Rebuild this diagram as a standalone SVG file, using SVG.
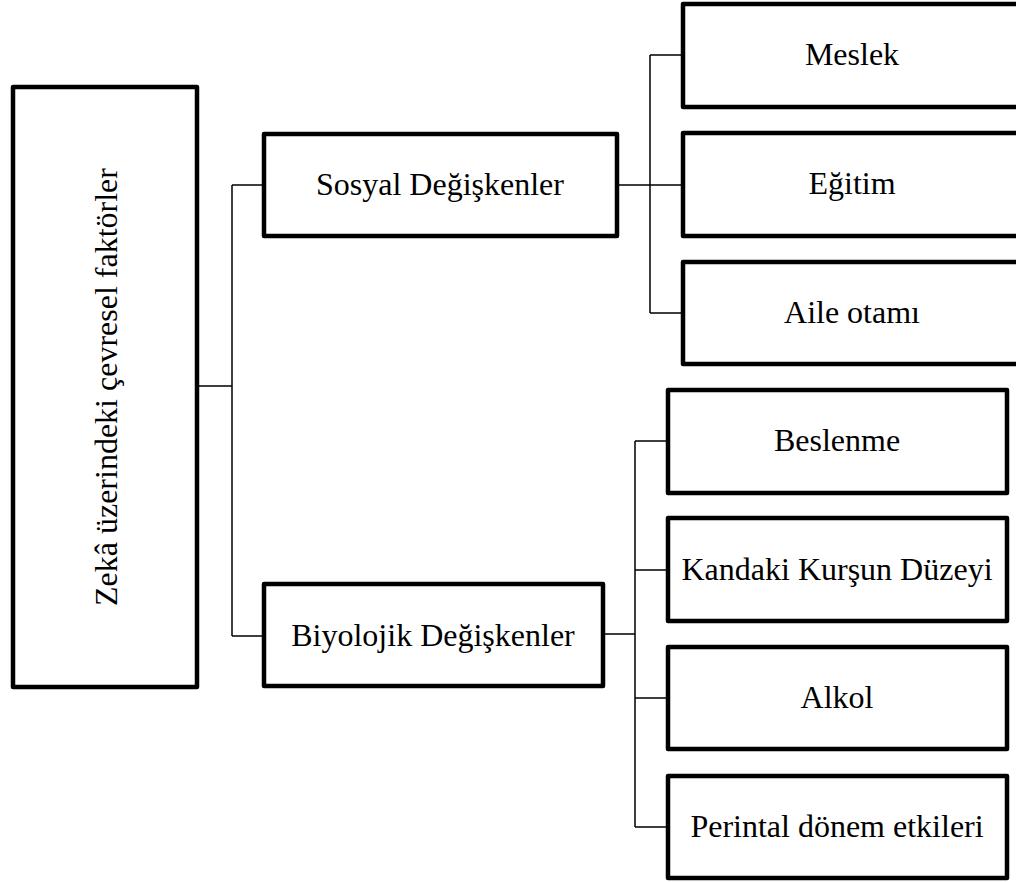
<svg xmlns="http://www.w3.org/2000/svg" width="1016" height="882" viewBox="0 0 1016 882">
  <style>
    .box { fill: #ffffff; stroke: #000000; stroke-width: 4.5; stroke-linejoin: round; }
    .lbl { font-family: "Liberation Serif", "Times New Roman", serif; font-size: 32px; fill: #000000; text-anchor: middle; }
    .wire { fill: none; stroke: #000000; stroke-width: 1.5; }
  </style>
  <rect width="1016" height="882" fill="#ffffff"/>

  <!-- tree connectors -->
  <g id="connectors">
    <path class="wire" d="M197 386 H232 M232 185 V636 M232 185 H263 M232 636 H263"/>
    <path class="wire" d="M617 185 H683 M650 55 V313 M650 55 H683 M650 313 H683"/>
    <path class="wire" d="M603 634 H635 M635 441 V827 M635 441 H668 M635 570 H668 M635 698 H668 M635 827 H668"/>
  </g>

  <g id="root">
    <rect class="box" x="13" y="87" width="184" height="600"/>
    <text class="lbl" transform="translate(117 387) rotate(-90)">Zekâ üzerindeki çevresel faktörler</text>
  </g>

  <g id="sosyal">
    <rect class="box" x="264" y="134" width="353" height="102"/>
    <text class="lbl" x="440" y="195">Sosyal Değişkenler</text>
  </g>

  <g id="biyolojik">
    <rect class="box" x="264" y="584" width="339" height="102"/>
    <text class="lbl" x="433" y="646">Biyolojik Değişkenler</text>
  </g>

  <g id="meslek">
    <rect class="box" x="683" y="4" width="340" height="103"/>
    <text class="lbl" x="852" y="65">Meslek</text>
  </g>

  <g id="egitim">
    <rect class="box" x="683" y="133" width="340" height="103"/>
    <text class="lbl" x="852" y="194">Eğitim</text>
  </g>

  <g id="aile">
    <rect class="box" x="683" y="262" width="340" height="102"/>
    <text class="lbl" x="852" y="323">Aile otamı</text>
  </g>

  <g id="beslenme">
    <rect class="box" x="668" y="390" width="339" height="103"/>
    <text class="lbl" x="837" y="451">Beslenme</text>
  </g>

  <g id="kursun">
    <rect class="box" x="668" y="518" width="339" height="103"/>
    <text class="lbl" x="837" y="580">Kandaki Kurşun Düzeyi</text>
  </g>

  <g id="alkol">
    <rect class="box" x="668" y="647" width="339" height="102"/>
    <text class="lbl" x="837" y="708">Alkol</text>
  </g>

  <g id="perintal">
    <rect class="box" x="668" y="776" width="339" height="102"/>
    <text class="lbl" x="837" y="837">Perintal dönem etkileri</text>
  </g>
</svg>
